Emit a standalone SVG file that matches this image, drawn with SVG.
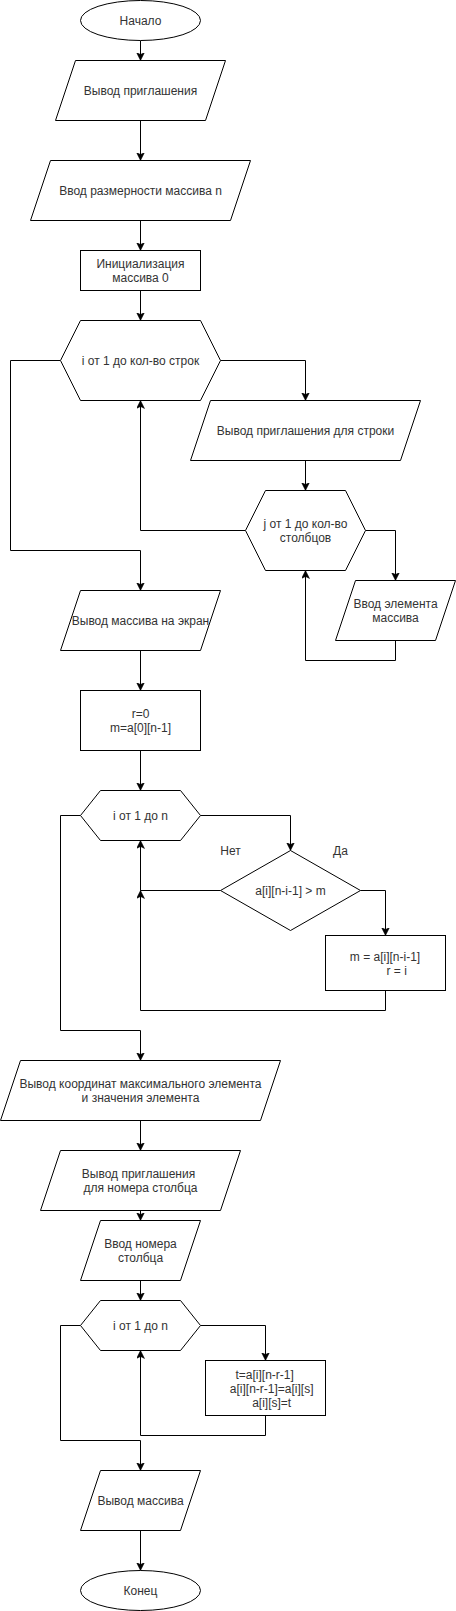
<svg xmlns="http://www.w3.org/2000/svg" width="456" height="1611" viewBox="0 0 456 1611">
<defs>
<style>
.n{fill:#ffffff;stroke:#000000;stroke-width:1}
.t{font-family:"Liberation Sans",Arial,sans-serif;font-size:12px;fill:#333333;text-anchor:middle;dominant-baseline:central}
.e{fill:none;stroke:#000000;stroke-width:1;marker-end:url(#arr)}
</style>
<marker id="arr" markerUnits="userSpaceOnUse" markerWidth="10" markerHeight="10" refX="8" refY="4" orient="auto">
<path d="M0,0 L8,4 L0,8 L2,4 Z" fill="#000000" stroke="#000000" stroke-width="0.5"/>
</marker>
</defs>
<rect width="456" height="1611" fill="#ffffff"/>
<g id="connectors">
<path class="e" d="M140.5,40.5 L140.5,60.5"/>
<path class="e" d="M140.5,120.5 L140.5,160.5"/>
<path class="e" d="M140.5,220.5 L140.5,250.5"/>
<path class="e" d="M140.5,290.5 L140.5,320.5"/>
<path class="e" d="M220.5,360.5 L305.5,360.5 L305.5,400.5"/>
<path class="e" d="M305.5,460.5 L305.5,490.5"/>
<path class="e" d="M245.5,530.5 L140.5,530.5 L140.5,400.5"/>
<path class="e" d="M365.5,530.5 L395.5,530.5 L395.5,580.5"/>
<path class="e" d="M395.5,640.5 L395.5,660.5 L305.5,660.5 L305.5,570.5"/>
<path class="e" d="M60.5,360.5 L10.5,360.5 L10.5,550.5 L140.5,550.5 L140.5,590.5"/>
<path class="e" d="M140.5,650.5 L140.5,690.5"/>
<path class="e" d="M140.5,750.5 L140.5,790.5"/>
<path class="e" d="M200.5,815.5 L290.5,815.5 L290.5,850.5"/>
<path class="e" d="M220.5,890.5 L140.5,890.5 L140.5,840.5"/>
<path class="e" d="M360.5,890.5 L385.5,890.5 L385.5,935.5"/>
<path class="e" d="M385.5,990.5 L385.5,1010.5 L140.5,1010.5 L140.5,890.5"/>
<path class="e" d="M80.5,815.5 L60.5,815.5 L60.5,1030.5 L140.5,1030.5 L140.5,1060.5"/>
<path class="e" d="M140.5,1120.5 L140.5,1150.5"/>
<path class="e" d="M140.5,1210.5 L140.5,1220.5"/>
<path class="e" d="M140.5,1280.5 L140.5,1300.5"/>
<path class="e" d="M200.5,1325.5 L265.5,1325.5 L265.5,1360.5"/>
<path class="e" d="M265.5,1415.5 L265.5,1435.5 L140.5,1435.5 L140.5,1350.5"/>
<path class="e" d="M80.5,1325.5 L60.5,1325.5 L60.5,1440.5 L140.5,1440.5 L140.5,1470.5"/>
<path class="e" d="M140.5,1530.5 L140.5,1570.5"/>
<text class="t" x="230.5" y="851">Нет</text>
<text class="t" x="340.5" y="851">Да</text>
</g>
<g id="start">
<ellipse class="n" cx="140.5" cy="20.5" rx="60" ry="20"/>
<text class="t" x="140.5" y="20.5">Начало</text>
</g>
<g id="io1">
<polygon class="n" points="75.5,60.5 225.5,60.5 205.5,120.5 55.5,120.5"/>
<text class="t" x="140.5" y="90.5">Вывод приглашения</text>
</g>
<g id="io2">
<polygon class="n" points="50.5,160.5 250.5,160.5 230.5,220.5 30.5,220.5"/>
<text class="t" x="140.5" y="190.5">Ввод размерности массива n</text>
</g>
<g id="init">
<rect class="n" x="80.5" y="250.5" width="120" height="40"/>
<text class="t" x="140.5" y="264">Инициализация</text>
<text class="t" x="140.5" y="278">массива 0</text>
</g>
<g id="loop1">
<polygon class="n" points="60.5,360.5 80.5,320.5 200.5,320.5 220.5,360.5 200.5,400.5 80.5,400.5"/>
<text class="t" x="140.5" y="360.5">i от 1 до кол-во строк</text>
</g>
<g id="io3">
<polygon class="n" points="210.5,400.5 420.5,400.5 400.5,460.5 190.5,460.5"/>
<text class="t" x="305.5" y="430.5">Вывод приглашения для строки</text>
</g>
<g id="loop2">
<polygon class="n" points="245.5,530.5 265.5,490.5 345.5,490.5 365.5,530.5 345.5,570.5 265.5,570.5"/>
<text class="t" x="305.5" y="524">j от 1 до кол-во</text>
<text class="t" x="305.5" y="538">столбцов</text>
</g>
<g id="io4">
<polygon class="n" points="355.5,580.5 455.5,580.5 435.5,640.5 335.5,640.5"/>
<text class="t" x="395.5" y="604">Ввод элемента</text>
<text class="t" x="395.5" y="618">массива</text>
</g>
<g id="io5">
<polygon class="n" points="80.5,590.5 220.5,590.5 200.5,650.5 60.5,650.5"/>
<text class="t" x="140.5" y="620.5">Вывод массива на экран</text>
</g>
<g id="init2">
<rect class="n" x="80.5" y="690.5" width="120" height="60"/>
<text class="t" x="140.5" y="713.5">r=0</text>
<text class="t" x="140.5" y="727.5">m=a[0][n-1]</text>
</g>
<g id="loop3">
<polygon class="n" points="80.5,815.5 100.5,790.5 180.5,790.5 200.5,815.5 180.5,840.5 100.5,840.5"/>
<text class="t" x="140.5" y="815.5">i от 1 до n</text>
</g>
<g id="cond">
<polygon class="n" points="290.5,850.5 360.5,890.5 290.5,930.5 220.5,890.5"/>
<text class="t" x="290.5" y="890.5">a[i][n-i-1] &gt; m</text>
</g>
<g id="assign">
<rect class="n" x="325.5" y="935.5" width="120" height="55"/>
<text class="t" x="385" y="956.5">m = a[i][n-i-1]</text>
<text class="t" x="396.7" y="970.5">r = i</text>
</g>
<g id="io6">
<polygon class="n" points="20.5,1060.5 280.5,1060.5 260.5,1120.5 0.5,1120.5"/>
<text class="t" x="140.5" y="1083.5">Вывод координат максимального элемента</text>
<text class="t" x="140.5" y="1097.5">и значения элемента</text>
</g>
<g id="io7">
<polygon class="n" points="60.5,1150.5 240.5,1150.5 220.5,1210.5 40.5,1210.5"/>
<text class="t" x="138.5" y="1174">Вывод приглашения</text>
<text class="t" x="140.5" y="1188">для номера столбца</text>
</g>
<g id="io8">
<polygon class="n" points="100.5,1220.5 200.5,1220.5 180.5,1280.5 80.5,1280.5"/>
<text class="t" x="140.5" y="1244">Ввод номера</text>
<text class="t" x="140.5" y="1258">столбца</text>
</g>
<g id="loop4">
<polygon class="n" points="80.5,1325.5 100.5,1300.5 180.5,1300.5 200.5,1325.5 180.5,1350.5 100.5,1350.5"/>
<text class="t" x="140.5" y="1325.5">i от 1 до n</text>
</g>
<g id="swap">
<rect class="n" x="205.5" y="1360.5" width="120" height="55"/>
<text class="t" x="264.7" y="1375">t=a[i][n-r-1]</text>
<text class="t" x="271.7" y="1389">a[i][n-r-1]=a[i][s]</text>
<text class="t" x="271.7" y="1403">a[i][s]=t</text>
</g>
<g id="io9">
<polygon class="n" points="100.5,1470.5 200.5,1470.5 180.5,1530.5 80.5,1530.5"/>
<text class="t" x="140.5" y="1500.5">Вывод массива</text>
</g>
<g id="end">
<ellipse class="n" cx="140.5" cy="1590.5" rx="60" ry="20"/>
<text class="t" x="140.5" y="1590.5">Конец</text>
</g>
</svg>
